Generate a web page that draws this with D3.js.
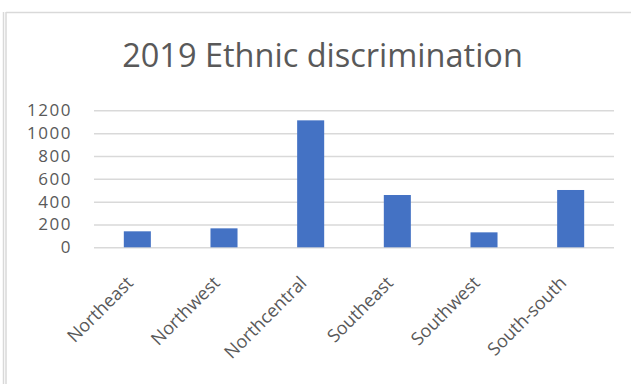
<!DOCTYPE html>
<html lang="en">
<head>
<meta charset="utf-8">
<script src="https://cdn.jsdelivr.net/npm/d3@7"></script>
<style>
  body{ margin:0; background:#fff; }
  svg text{ font-family:"Open Sans", "Liberation Sans", sans-serif; fill:#595959; }
</style>
</head>
<body>
<svg></svg>
<script>
var regions = ['Northeast','Northwest','Northcentral','Southeast','Southwest','South-south'];
var cases = [140, 166, 1112, 458, 131, 502];
var yTicks = [0, 200, 400, 600, 800, 1000, 1200];
var title = '2019 Ethnic discrimination';

var svgwidth = 631, svgheight = 384;
var svg = d3.select('svg').attr('width', svgwidth).attr('height', svgheight);

var plot = { left:94, right:614, top:110.3, bottom:247.3 };

// chart frame (partial, as in the cropped screenshot)
svg.append('line').attr('x1',6).attr('x2',631).attr('y1',12.5).attr('y2',12.5)
   .attr('stroke','#d9d9d9').attr('stroke-width',1.5);
svg.append('line').attr('x1',3.5).attr('x2',3.5).attr('y1',12).attr('y2',384)
   .attr('stroke','#d9d9d9').attr('stroke-width',1.5);
svg.append('line').attr('x1',6).attr('x2',6).attr('y1',12).attr('y2',384)
   .attr('stroke','#d9d9d9').attr('stroke-width',1.5);

svg.append('text').attr('x',322.5).attr('y',67)
   .attr('text-anchor','middle').style('font-size','32.5px')
   .text(title);

var xScale = d3.scaleBand().domain(regions)
               .range([plot.left, plot.right])
               .paddingInner(0.688).paddingOuter(0.344);

var yScale = d3.scaleLinear().domain([0,1200]).range([plot.bottom, plot.top]);

// gridlines
var grid = svg.append('g').attr('transform','translate('+plot.left+',0)')
  .call(d3.axisLeft(yScale).tickValues(yTicks).tickSize(-(plot.right-plot.left)).tickFormat(''));
grid.select('.domain').remove();
grid.selectAll('line').attr('stroke','#d9d9d9').attr('stroke-width',1.5);

// y labels
var yAxis = svg.append('g').attr('transform','translate('+plot.left+',0)')
  .call(d3.axisLeft(yScale).tickValues(yTicks).tickSize(0).tickPadding(22).tickFormat(d3.format('d')));
yAxis.select('.domain').remove();
yAxis.selectAll('text').style('font-size','17px').style('letter-spacing','1.5px').attr('fill','#595959');

svg.selectAll('.bar').data(cases).enter().append('rect')
   .attr('class','bar')
   .attr('x', function(d,i){ return xScale(regions[i]); })
   .attr('y', function(d){ return yScale(d); })
   .attr('width', xScale.bandwidth())
   .attr('height', function(d){ return yScale(0) - yScale(d); })
   .attr('fill','#4472c4');

// x labels
svg.selectAll('.xlab').data(regions).enter().append('text')
   .attr('class','xlab')
   .attr('text-anchor','end')
   .style('font-size','18px')
   .attr('transform', function(d){
     var cx = xScale(d) + xScale.bandwidth()/2;
     return 'translate('+(cx-3)+','+284+') rotate(-45)';
   })
   .text(function(d){ return d; });
</script>
</body>
</html>
